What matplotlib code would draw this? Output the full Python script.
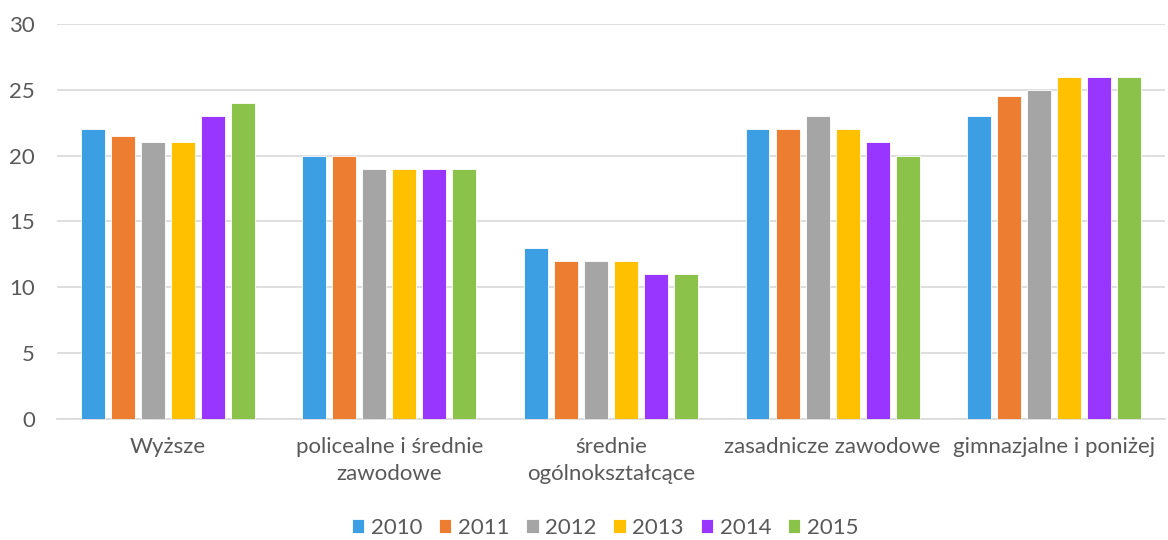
import matplotlib
matplotlib.use("Agg")
import matplotlib.pyplot as plt
import numpy as np

categories = ["Wyższe", "policealne i średnie\nzawodowe", "średnie\nogólnokształcące",
              "zasadnicze zawodowe", "gimnazjalne i poniżej"]
years = ["2010", "2011", "2012", "2013", "2014", "2015"]
values = {
    "2010": [22, 20, 13, 22, 23],
    "2011": [21.5, 20, 12, 22, 24.5],
    "2012": [21, 19, 12, 23, 25],
    "2013": [21, 19, 12, 22, 26],
    "2014": [23, 19, 11, 21, 26],
    "2015": [24, 19, 11, 20, 26],
}
colors = ["#3C9FE3", "#ED7D31", "#A5A5A5", "#FFC000", "#9835FF", "#8BC34A"]
yticks = [0, 5, 10, 15, 20, 25, 30]

plt.rcParams["font.family"] = ["Lato", "DejaVu Sans"]
text_color = "#595959"
fs = 16

fig = plt.figure(figsize=(11.68, 5.4), dpi=100)
ax = fig.add_axes([0.0488, 0.2241, 0.9486, 0.7315])

x = np.arange(len(categories))
slot = 0.1355
bar_w = 0.108
for i, (yr, col) in enumerate(zip(years, colors)):
    offs = (i - (len(years) - 1) / 2) * slot
    ax.bar(x + offs, values[yr], width=bar_w, color=col, edgecolor="white",
           linewidth=0.6, label=yr, zorder=3)

ax.set_xlim(-0.5, len(categories) - 0.5)
ax.set_ylim(0, 30)
ax.set_yticks(yticks)
ax.set_yticklabels([str(t) for t in yticks], fontsize=fs, color=text_color)
ax.yaxis.grid(True, color="#D9D9D9", linewidth=1.2, zorder=0)
ax.tick_params(axis="y", length=0, pad=16)
ax.set_xticks(x)
ax.set_xticklabels(categories, fontsize=fs, color=text_color, linespacing=1.45)
ax.tick_params(axis="x", length=0, pad=13)
for s in ["top", "right", "left"]:
    ax.spines[s].set_visible(False)
ax.spines["bottom"].set_color("#D9D9D9")
ax.spines["bottom"].set_linewidth(1.2)

handles, labels = ax.get_legend_handles_labels()
fig.legend(handles, labels, loc="center", bbox_to_anchor=(0.518, 0.022), ncol=6,
           frameon=False, fontsize=fs, handlelength=0.56, handleheight=0.56,
           handletextpad=0.3, columnspacing=0.75, labelcolor=text_color,
           borderpad=0.1)

fig.savefig("out.png", dpi=100)
